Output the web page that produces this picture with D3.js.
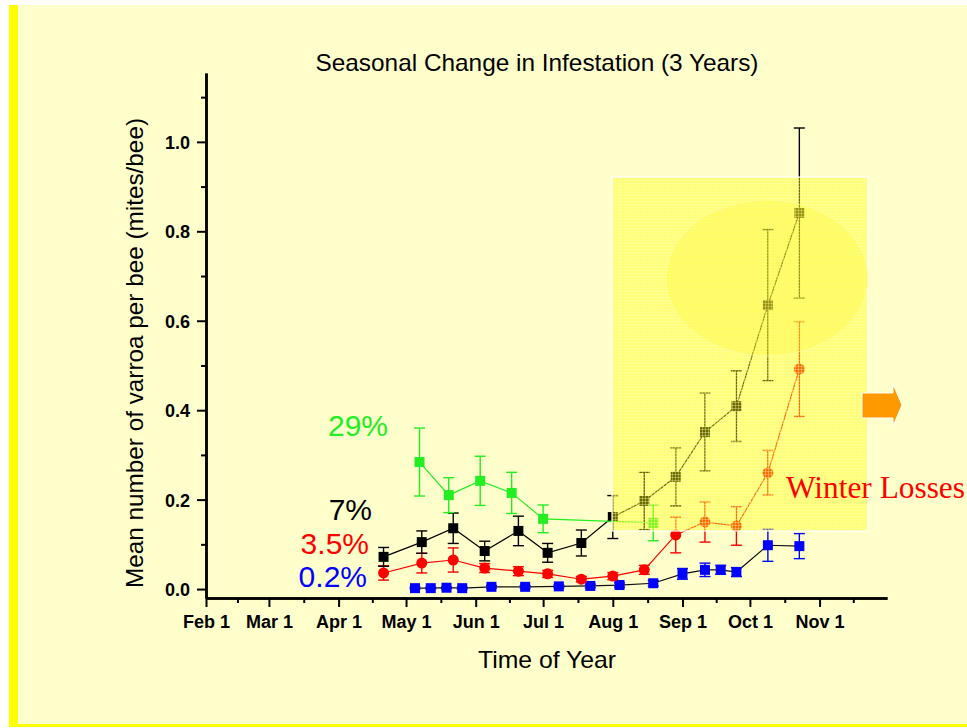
<!DOCTYPE html>
<html>
<head>
<meta charset="utf-8">
<script src="https://cdn.jsdelivr.net/npm/d3@7"></script>
<style>
  html, body { margin: 0; padding: 0; background: #ffffff; }
  svg { display: block; }
  .tick text { font-family: 'Liberation Sans', Arial, sans-serif; font-weight: bold; font-size: 18px; fill: #000; }
</style>
</head>
<body>
<svg></svg>
<script>
// month ticks and labels on the time axis
const monthTicks = ['2001-02-01', '2001-03-01', '2001-04-01', '2001-05-01', '2001-06-01',
  '2001-07-01', '2001-08-01', '2001-09-01', '2001-10-01', '2001-11-01'];
const yTicks = [0, 0.2, 0.4, 0.6, 0.8, 1.0];
const yMinorTicks = [0.1, 0.3, 0.5, 0.7, 0.9, 1.1];

// 0.2% series (blue)
const blueDates = ['2001-05-05', '2001-05-12', '2001-05-19', '2001-05-26', '2001-06-08', '2001-06-23',
  '2001-07-08', '2001-07-22', '2001-08-04', '2001-08-19', '2001-09-01', '2001-09-11', '2001-09-18',
  '2001-09-25', '2001-10-09', '2001-10-23'];
const blueValues = [0.002, 0.002, 0.003, 0.002, 0.005, 0.005, 0.006, 0.007, 0.009, 0.013, 0.034,
  0.043, 0.043, 0.038, 0.098, 0.096];
const blueErrors = [0.002, 0.002, 0.002, 0.002, 0.003, 0.003, 0.003, 0.004, 0.005, 0.006, 0.012,
  0.015, 0.01, 0.01, 0.036, 0.028];

// 3.5% series (red)
const redDates = ['2001-04-21', '2001-05-08', '2001-05-22', '2001-06-05', '2001-06-20', '2001-07-03',
  '2001-07-18', '2001-08-01', '2001-08-15', '2001-08-29', '2001-09-11', '2001-09-25', '2001-10-09',
  '2001-10-23'];
const redValues = [0.036, 0.058, 0.065, 0.047, 0.040, 0.034, 0.022, 0.029, 0.043, 0.121, 0.150,
  0.141, 0.260, 0.492];
const redErrors = [0.016, 0.022, 0.027, 0.01, 0.01, 0.008, 0.006, 0.008, 0.01, 0.04, 0.045, 0.043,
  0.05, 0.106];

// 7% series (black)
const blackDates = redDates;
const blackValues = [0.072, 0.105, 0.136, 0.085, 0.130, 0.081, 0.103, 0.161, 0.197, 0.251, 0.351,
  0.409, 0.635, 0.841];
const blackErrors = [0.021, 0.025, 0.034, 0.022, 0.033, 0.021, 0.029, 0.048, 0.064, 0.065, 0.087,
  0.079, 0.169, 0.19];

// 29% series (green)
const greenDates = ['2001-05-07', '2001-05-20', '2001-06-03', '2001-06-17', '2001-07-01', '2001-08-19'];
const greenValues = [0.284, 0.210, 0.242, 0.215, 0.157, 0.148];
const greenErrors = [0.076, 0.039, 0.055, 0.046, 0.031, 0.04];

const width = 967;
const height = 728;

const parseDate = d3.timeParse('%Y-%m-%d');

const svg = d3.select('svg').attr('width', width).attr('height', height);

let xScale;
let yScale;

const makeSeries = (dates, values, errors) =>
  dates.map((d, i) => ({ date: parseDate(d), v: values[i], e: errors[i] }));

const series = [
  { name: '0.2%', data: makeSeries(blueDates, blueValues, blueErrors), color: '#0000ff', line: '#111111', shape: 'square', label: [367, 587] },
  { name: '3.5%', data: makeSeries(redDates, redValues, redErrors), color: '#ff0000', line: '#ff0000', shape: 'circle', label: [369, 554] },
  { name: '7%', data: makeSeries(blackDates, blackValues, blackErrors), color: '#000000', line: '#000000', shape: 'square', label: [372, 520] },
  { name: '29%', data: makeSeries(greenDates, greenValues, greenErrors), color: '#22ee22', line: '#22ee22', shape: 'square', label: [388, 436] },
];

const drawBackground = () => {
  svg.append('rect').attr('x', 9).attr('y', 5).attr('width', width - 9).attr('height', 722).attr('fill', '#ffffcc');
  svg.append('rect').attr('x', 9).attr('y', 5).attr('width', 9).attr('height', 722).attr('fill', '#ffff00');
  svg.append('rect').attr('x', 9).attr('y', 724).attr('width', width - 9).attr('height', 3).attr('fill', '#ffff00');
};

const generateScales = () => {
  xScale = d3.scaleTime()
    .domain([parseDate('2001-02-01'), parseDate('2001-12-01')])
    .range([206, 887]);

  yScale = d3.scaleLinear()
    .domain([-0.02, 1.154])
    .range([598, 73]);
};

const generateAxes = () => {
  const months = monthTicks.map(parseDate);
  const mids = [];
  for (let i = 0; i < months.length; i++) {
    const next = d3.timeMonth.offset(months[i], 1);
    mids.push(new Date((months[i].getTime() + next.getTime()) / 2));
  }

  const xAxis = d3.axisBottom(xScale)
    .tickValues(months)
    .tickFormat(d3.timeFormat('%b %-d'))
    .tickSize(9)
    .tickSizeOuter(0)
    .tickPadding(8);
  const xMinor = d3.axisBottom(xScale).tickValues(mids).tickFormat('').tickSize(5).tickSizeOuter(0);

  const yAxis = d3.axisLeft(yScale)
    .tickValues(yTicks)
    .tickFormat(d3.format('.1f'))
    .tickSize(9)
    .tickSizeOuter(0)
    .tickPadding(7);
  const yMinor = d3.axisLeft(yScale).tickValues(yMinorTicks).tickFormat('').tickSize(5).tickSizeOuter(0);

  const gx = svg.append('g').attr('id', 'x-axis').attr('transform', 'translate(0, 598)').call(xAxis);
  svg.append('g').attr('transform', 'translate(0, 598)').call(xMinor);
  const gy = svg.append('g').attr('id', 'y-axis').attr('transform', 'translate(206, 0)').call(yAxis);
  svg.append('g').attr('transform', 'translate(206, 0)').call(yMinor);

  svg.selectAll('.domain').attr('stroke-width', 2.5);
  svg.selectAll('.tick line').attr('stroke-width', 2);
  gx.selectAll('.tick text').attr('fill', '#000');
  gy.selectAll('.tick text').attr('dy', '0.36em');
};

const drawSeries = () => {
  const line = d3.line().x((d) => xScale(d.date)).y((d) => yScale(d.v));

  series.forEach((s) => {
    const g = svg.append('g');
    g.append('path')
      .datum(s.data)
      .attr('d', line)
      .attr('fill', 'none')
      .attr('stroke', s.line)
      .attr('stroke-width', 1.2);

    const bars = g.selectAll('.err').data(s.data).enter().append('g').attr('class', 'err')
      .attr('stroke', s.color).attr('stroke-width', 1.4);
    bars.append('line')
      .attr('x1', (d) => xScale(d.date)).attr('x2', (d) => xScale(d.date))
      .attr('y1', (d) => yScale(d.v - d.e)).attr('y2', (d) => yScale(d.v + d.e));
    [1, -1].forEach((sign) => {
      bars.append('line')
        .attr('x1', (d) => xScale(d.date) - 5.5).attr('x2', (d) => xScale(d.date) + 5.5)
        .attr('y1', (d) => yScale(d.v + sign * d.e)).attr('y2', (d) => yScale(d.v + sign * d.e));
    });

    if (s.shape === 'circle') {
      g.selectAll('circle').data(s.data).enter().append('circle')
        .attr('cx', (d) => xScale(d.date))
        .attr('cy', (d) => yScale(d.v))
        .attr('r', 5.5)
        .attr('fill', s.color);
    } else {
      g.selectAll('rect').data(s.data).enter().append('rect')
        .attr('x', (d) => xScale(d.date) - 5)
        .attr('y', (d) => yScale(d.v) - 5)
        .attr('width', 10)
        .attr('height', 10)
        .attr('fill', s.color);
    }

    svg.append('text')
      .attr('x', s.label[0])
      .attr('y', s.label[1])
      .attr('text-anchor', 'end')
      .attr('font-family', "'Liberation Sans', Arial, sans-serif")
      .attr('font-size', 30)
      .attr('fill', s.color)
      .text(s.name);
  });
};

const drawHighlight = () => {
  const defs = svg.append('defs');
  const pat = defs.append('pattern')
    .attr('id', 'grid').attr('width', 3).attr('height', 3).attr('patternUnits', 'userSpaceOnUse');
  pat.append('rect').attr('width', 3).attr('height', 3).attr('fill', '#ffff00').attr('fill-opacity', 0.42);
  pat.append('path').attr('d', 'M0,0.5H3M0.5,0V3').attr('stroke', '#ffffb0').attr('stroke-opacity', 0.35).attr('stroke-width', 1);

  svg.append('rect')
    .attr('x', 612).attr('y', 177).attr('width', 256).attr('height', 354)
    .attr('fill', 'url(#grid)')
    .attr('stroke', '#ffffff')
    .attr('stroke-width', 1.2);

  svg.append('ellipse')
    .attr('cx', 767).attr('cy', 278).attr('rx', 101).attr('ry', 78)
    .attr('fill', '#fff533')
    .attr('fill-opacity', 0.3)
    .attr('stroke', '#ffffaa')
    .attr('stroke-opacity', 0.6);

  svg.append('text')
    .attr('x', 786).attr('y', 498)
    .attr('font-family', "'Liberation Serif', 'Times New Roman', serif")
    .attr('font-size', 31)
    .attr('textLength', 179).attr('lengthAdjust', 'spacingAndGlyphs')
    .attr('fill', '#ff0000')
    .text('Winter Losses');

  svg.append('path')
    .attr('d', 'M862,393H893V384L902,405L893,426V418H862Z')
    .attr('fill', '#ff9900')
    .attr('stroke', '#ffffff')
    .attr('stroke-width', 1);
};

const drawTitles = () => {
  const font = "'Liberation Sans', Arial, sans-serif";
  svg.append('text')
    .attr('x', 537).attr('y', 71)
    .attr('text-anchor', 'middle')
    .attr('font-family', font).attr('font-size', 24)
    .attr('textLength', 443).attr('lengthAdjust', 'spacingAndGlyphs')
    .text('Seasonal Change in Infestation (3 Years)');

  svg.append('text')
    .attr('x', 547).attr('y', 668)
    .attr('text-anchor', 'middle')
    .attr('font-family', font).attr('font-size', 24)
    .attr('textLength', 138).attr('lengthAdjust', 'spacingAndGlyphs')
    .text('Time of Year');

  svg.append('text')
    .attr('transform', 'translate(143, 353) rotate(-90)')
    .attr('text-anchor', 'middle')
    .attr('font-family', font).attr('font-size', 24)
    .attr('textLength', 470).attr('lengthAdjust', 'spacingAndGlyphs')
    .text('Mean number of varroa per bee (mites/bee)');
};

drawBackground();
generateScales();
drawSeries();
drawHighlight();
generateAxes();
drawTitles();
</script>
</body>
</html>
